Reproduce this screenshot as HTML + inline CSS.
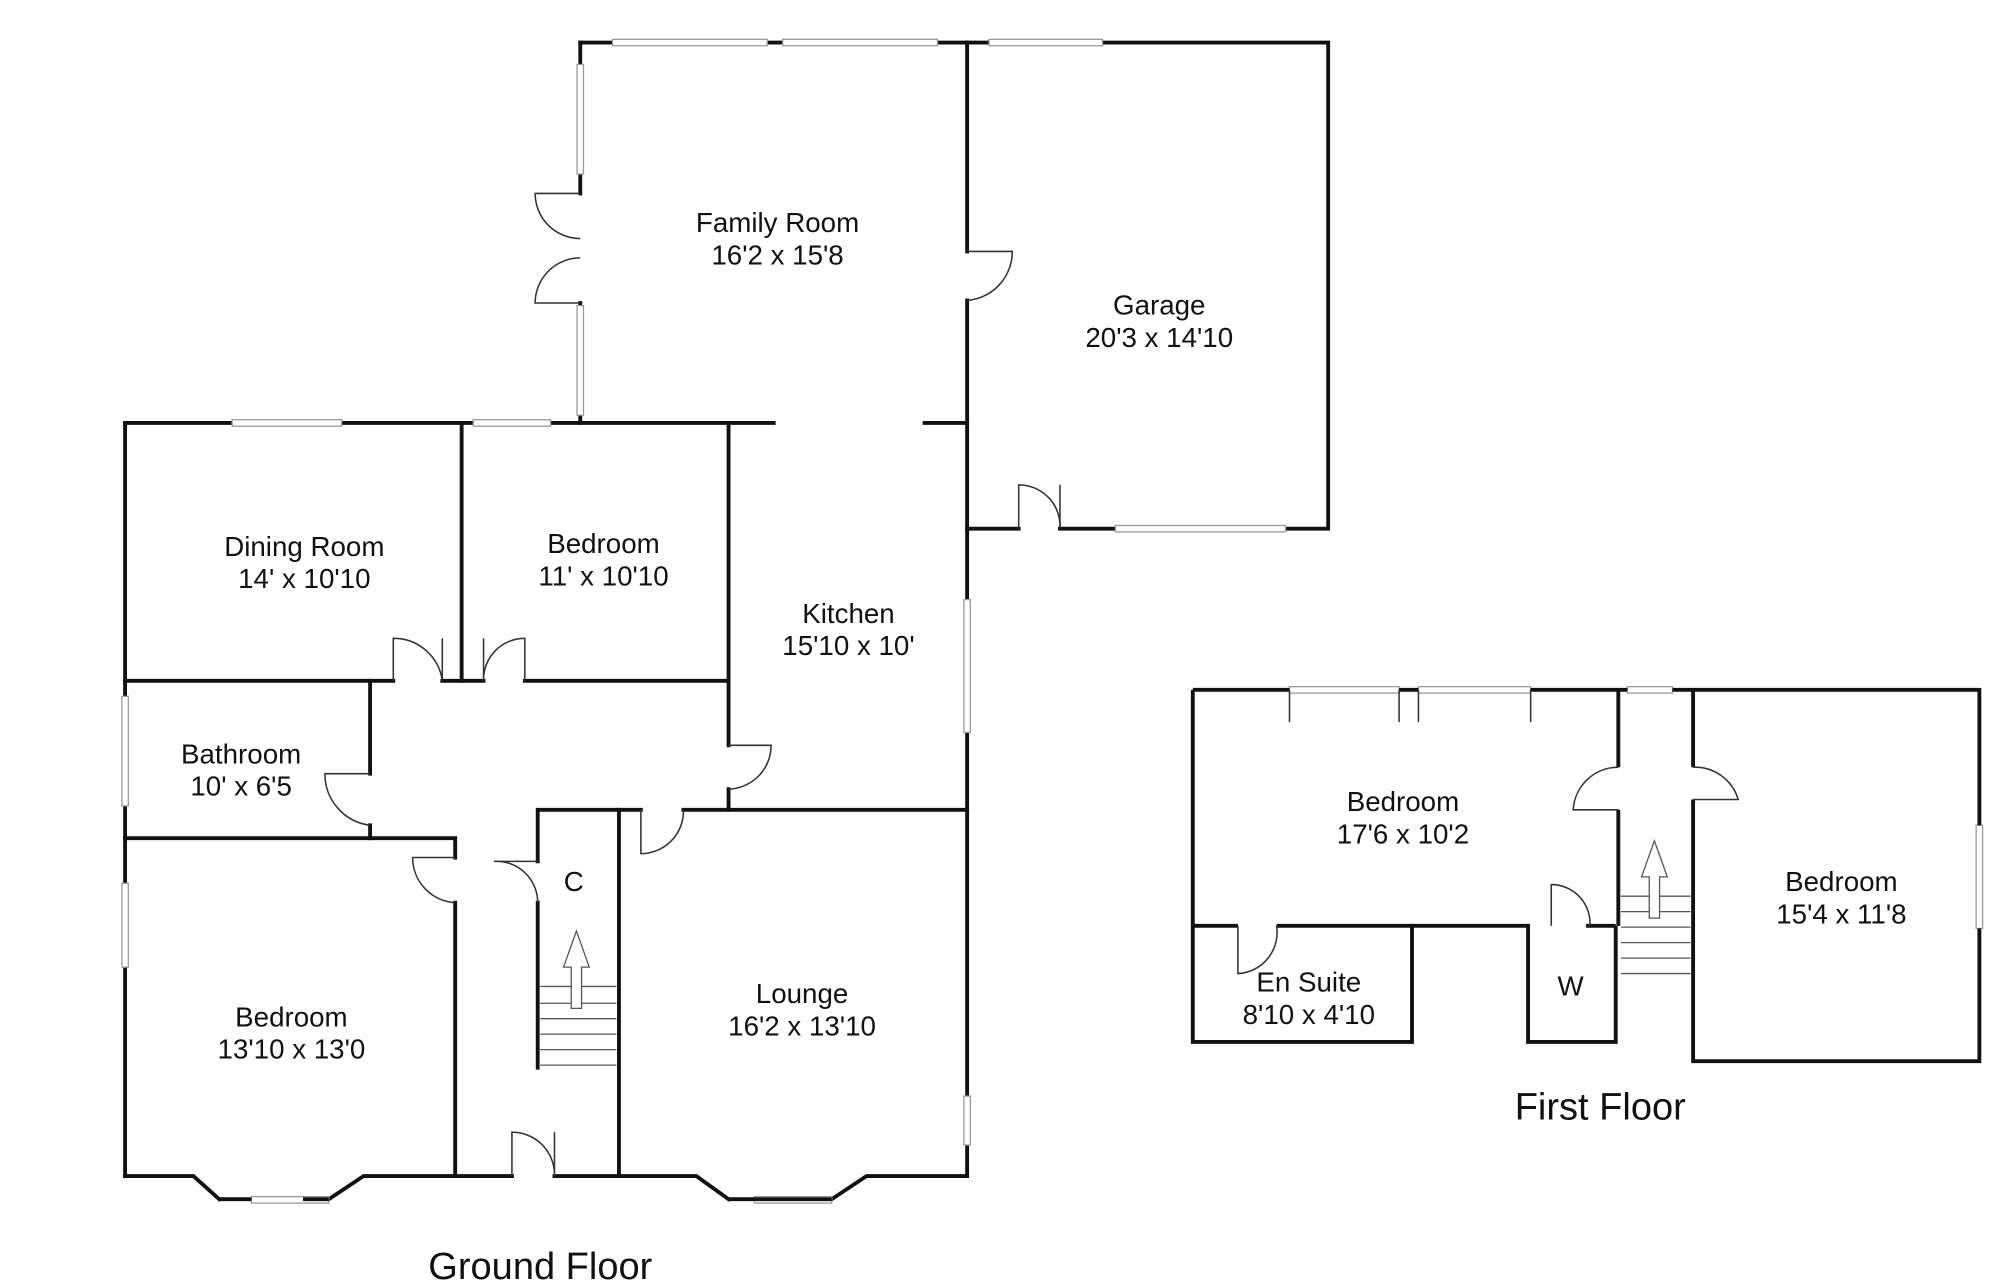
<!DOCTYPE html>
<html><head><meta charset="utf-8"><style>
html,body{margin:0;padding:0;background:#fff;width:2000px;height:1282px;overflow:hidden}
svg{display:block}
text{font-family:"Liberation Sans",sans-serif;fill:#111;text-anchor:middle}
</style></head><body>
<svg width="2000" height="1282" viewBox="0 0 1551 994.2" preserveAspectRatio="none">
<g stroke="#111" stroke-width="3" fill="none" stroke-linecap="square">
<path d="M450 33 H475 M595 33 H607 M727 33 H750"/>
<path d="M450 33 V50 M450 135 V150 M450 235 V237 M450 322 V328"/>
<path d="M750 33 H767 M855 33 H1030 V410 H997 M865 410 H822 M790 410 H750"/>
<path d="M750 33 V195 M750 233 V328"/>
<path d="M750 328 V465 M750 568 V850 M750 888 V912"/>
<path d="M97 328 H180 M265 328 H367 M427 328 H600 M717 328 H750"/>
<path d="M97 328 V540 M97 625 V685 M97 750 V912"/>
<path d="M358 328 V528"/>
<path d="M97 528 H305 M343 528 H375 M407 528 H565"/>
<path d="M565 328 V578 M565 612 V628 H750"/>
<path d="M287 528 V600 M287 640 V650"/>
<path d="M97 650 H353 V665 M353 700 V912"/>
<path d="M480 628 H497 M530 628 H565 M480 628 V912"/>
<path d="M417 628 H480 M417 628 V668 M417 700 V828"/>
<path d="M97 912 H150 L170 930 M255 930 L282 912 H353 H397 M430 912 H480 H540 L565 930 M645 930 L672 912 H750"/>
</g>
<g stroke="#999" stroke-width="1" fill="#fff">
<rect x="475" y="30.5" width="120" height="5"/><rect x="607" y="30.5" width="120" height="5"/>
<rect x="767" y="30.5" width="88" height="5"/>
<rect x="447.5" y="50" width="5" height="85"/><rect x="447.5" y="237" width="5" height="85"/>
<rect x="865" y="407.5" width="132" height="5"/>
<rect x="180" y="325.5" width="85" height="5"/><rect x="367" y="325.5" width="60" height="5"/>
<rect x="747.5" y="465" width="5" height="103"/><rect x="747.5" y="850" width="5" height="38"/>
<rect x="94.5" y="540" width="5" height="85"/><rect x="94.5" y="685" width="5" height="65"/>
<rect x="195" y="928" width="60" height="5"/><rect x="585" y="928" width="60" height="5"/>
<rect x="1000" y="532.5" width="85" height="5"/><rect x="1100" y="532.5" width="87" height="5"/>
<rect x="1262" y="532.5" width="35" height="5"/>
<rect x="1532.5" y="640" width="5" height="80"/>
</g>
<g stroke="#111" stroke-width="3" fill="none">
<path d="M170 930 L195 930 M645 930 L585 930 M565 930 L585 930 M255 930 L235 930"/>
</g>
<g stroke="#333" stroke-width="1.2" fill="none">
<path d="M450 150 H415 A35 35 0 0 0 450 185"/><path d="M450 235 H415 A35 35 0 0 1 450 200"/>
<path d="M750 195 H785 A38 38 0 0 1 750 233"/>
<path d="M790 410 V376 A32 32 0 0 1 822 410"/><path d="M822 410 V376"/>
<path d="M305 528 V495 A38 38 0 0 1 343 528"/><path d="M343 495 V528"/>
<path d="M375 528 V495 M407 528 V495 A32 32 0 0 0 375 528"/>
<path d="M287 600 H252 A40 40 0 0 0 287 640"/>
<path d="M565 578 H598 A34 34 0 0 1 565 612"/>
<path d="M497 628 V662 A33 33 0 0 0 530 628"/>
<path d="M353 665 H320 A35 35 0 0 0 353 700"/>
<path d="M417 668 H383 A32 32 0 0 1 417 700"/>
<path d="M397 912 V878 A33 33 0 0 1 430 912 M430 878 V912"/>
</g>
<g stroke="#555" stroke-width="1" fill="none">
<path d="M419 765 H478 M419 778 H478 M419 790 H478 M419 802 H478 M419 814 H478 M419 826 H478"/>
<path d="M443 782 V750 H437 L447 722 L457 750 H451 V782 Z" fill="#fff"/>
</g>
<g stroke="#111" stroke-width="3" fill="none">
<path d="M925 535 H1000 M1085 535 H1100 M1187 535 H1262 M1297 535 H1313 H1535 V640 M1535 720 V823 H1313 V620 M1313 535 V595"/>
<path d="M925 535 V808 H1095 V718 H1185 V808 H1253 V718 M925 718 H960 M990 718 H1185 M1230 718 H1253"/>
<path d="M1255 535 V595 M1255 628 V718"/>
</g>
<g stroke="#333" stroke-width="1.2" fill="none">
<path d="M1255 595 A35 35 0 0 0 1220 628 H1255"/>
<path d="M1313 595 A35 35 0 0 1 1348 620 H1313"/>
<path d="M960 718 V755 A32 32 0 0 0 990 718"/>
<path d="M1203 718 V686 A30 30 0 0 1 1233 718"/>
<path d="M1100 535 V560 M1085 535 V560 M1000 535 V560 M1187 535 V560"/>
</g>
<g stroke="#555" stroke-width="1" fill="none">
<path d="M1257 695 H1311 M1257 707 H1311 M1257 719 H1311 M1257 731 H1311 M1257 743 H1311 M1257 755 H1311"/>
<path d="M1279 712 V680 H1273 L1283 652 L1293 680 H1287 V712 Z" fill="#fff"/>
</g>
<g font-size="21.5">
<text x="603" y="180">Family Room</text><text x="603" y="205">16'2 x 15'8</text>
<text x="899" y="244">Garage</text><text x="899" y="269">20'3 x 14'10</text>
<text x="236" y="431">Dining Room</text><text x="236" y="456">14' x 10'10</text>
<text x="468" y="429">Bedroom</text><text x="468" y="454">11' x 10'10</text>
<text x="658" y="483">Kitchen</text><text x="658" y="508">15'10 x 10'</text>
<text x="187" y="592">Bathroom</text><text x="187" y="617">10' x 6'5</text>
<text x="445" y="691">C</text>
<text x="226" y="796">Bedroom</text><text x="226" y="821">13'10 x 13'0</text>
<text x="622" y="778">Lounge</text><text x="622" y="803">16'2 x 13'10</text>
<text x="1088" y="629">Bedroom</text><text x="1088" y="654">17'6 x 10'2</text>
<text x="1428" y="691">Bedroom</text><text x="1428" y="716">15'4 x 11'8</text>
<text x="1015" y="769">En Suite</text><text x="1015" y="794">8'10 x 4'10</text>
<text x="1218" y="772">W</text>
</g>
<text x="419" y="992" font-size="29.5">Ground Floor</text>
<text x="1241" y="868" font-size="29.5">First Floor</text>
</svg>
</body></html>
